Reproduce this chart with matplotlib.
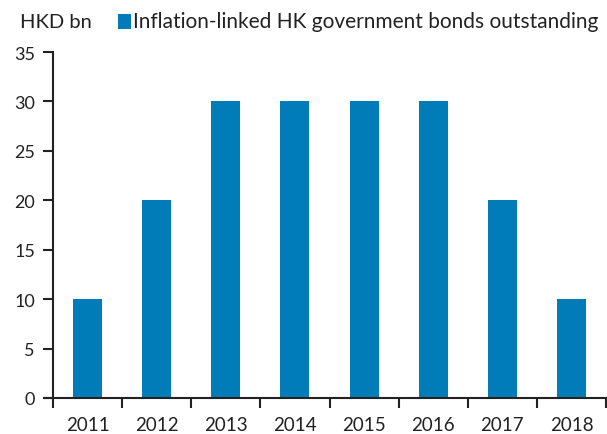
import matplotlib
matplotlib.use("Agg")
import matplotlib.pyplot as plt
from matplotlib.patches import Rectangle

years = ["2011", "2012", "2013", "2014", "2015", "2016", "2017", "2018"]
outstanding = [10, 20, 30, 30, 30, 30, 20, 10]
series_name = "Inflation-linked HK government bonds outstanding"
unit_label = "HKD bn"
y_ticks = [0, 5, 10, 15, 20, 25, 30, 35]

BAR_COLOR = "#007DB8"
plt.rcParams["font.family"] = ["Lato", "DejaVu Sans"]

fig = plt.figure(figsize=(6.07, 4.35), dpi=100)
ax = fig.add_axes([53 / 607, 1 - 399 / 435, 553 / 607, 346 / 435])

x = list(range(len(years)))
ax.bar(x, outstanding, width=0.42, color=BAR_COLOR, zorder=2)

ax.set_xlim(-0.5, len(years) - 0.5)
ax.set_ylim(0, 35)
ax.set_yticks(y_ticks)
ax.set_yticklabels([str(v) for v in y_ticks], fontsize=13, color="#222222")

# category labels centred under bars, tick marks on category boundaries
ax.set_xticks([i - 0.5 for i in range(len(years) + 1)])
ax.set_xticklabels([])
ax.set_xticks(x, minor=True)
ax.set_xticklabels(years, minor=True, fontsize=13.5, color="#222222")
ax.tick_params(axis="x", which="minor", length=0, pad=13)
ax.tick_params(axis="x", which="major", direction="out", length=7, width=1.5, color="#222222")
ax.tick_params(axis="y", direction="out", length=7, width=1.5, color="#222222", pad=6)

for side in ("top", "right"):
    ax.spines[side].set_visible(False)
for side in ("left", "bottom"):
    ax.spines[side].set_linewidth(1.5)
    ax.spines[side].set_color("#222222")
ax.spines["bottom"].set_bounds(-0.62, len(years) - 0.5)

fig.text(20 / 607, 1 - 22 / 435, unit_label, fontsize=14.5, color="#222222", va="center", ha="left")
fig.patches.append(Rectangle((118 / 607, 1 - 30 / 435), 13 / 607, 15 / 435,
                             transform=fig.transFigure, facecolor=BAR_COLOR, edgecolor="none"))
fig.text(133 / 607, 1 - 22 / 435, series_name, fontsize=15, color="#222222", va="center", ha="left")

fig.savefig("out.png", dpi=100)
